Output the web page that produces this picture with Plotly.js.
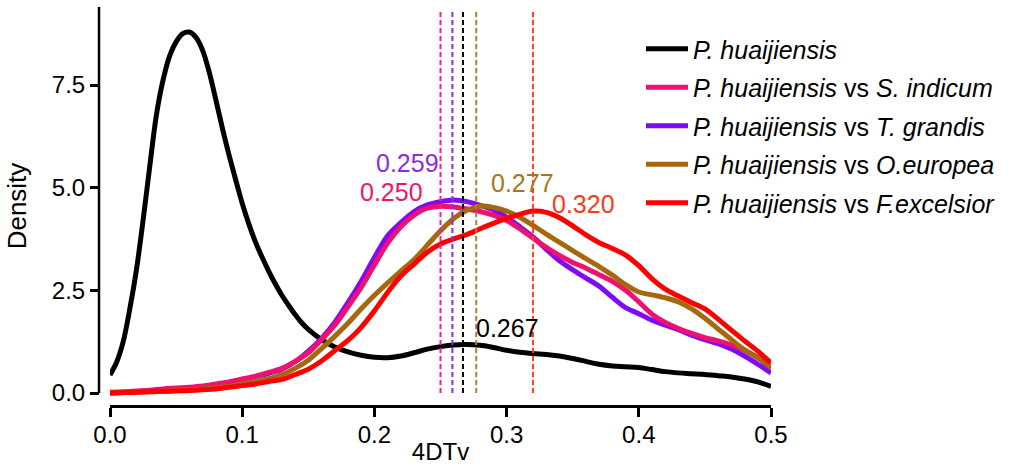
<!DOCTYPE html>
<html>
<head>
<meta charset="utf-8">
<script src="https://cdn.plot.ly/plotly-3.0.1.min.js"></script>
<style>html,body{margin:0;padding:0;background:#fff;}#chart{width:1011px;height:469px;}</style>
</head>
<body>
<div id="chart"></div>
<script>
// ---- data ----
const xSingle = [0, 0.005, 0.01, 0.015, 0.02, 0.025, 0.03, 0.035, 0.04, 0.045, 0.05, 0.055, 0.06, 0.065, 0.07, 0.075, 0.08, 0.085, 0.09, 0.095, 0.10, 0.105, 0.11, 0.115, 0.12, 0.125, 0.13, 0.135, 0.14, 0.145, 0.15, 0.16, 0.17, 0.18, 0.19, 0.20, 0.21, 0.22, 0.23, 0.24, 0.25, 0.26, 0.27, 0.28, 0.29, 0.30, 0.31, 0.32, 0.33, 0.34, 0.35, 0.36, 0.37, 0.38, 0.39, 0.40, 0.41, 0.42, 0.43, 0.44, 0.45, 0.46, 0.47, 0.48, 0.49, 0.50];
const densHuaijiensis = [0.44, 0.75, 1.25, 2.05, 3.0, 4.2, 5.5, 6.75, 7.6, 8.2, 8.55, 8.75, 8.79, 8.66, 8.35, 7.82, 7.15, 6.45, 5.8, 5.2, 4.62, 4.12, 3.68, 3.31, 2.97, 2.66, 2.38, 2.14, 1.91, 1.71, 1.55, 1.3, 1.12, 1.0, 0.92, 0.87, 0.86, 0.9, 0.98, 1.07, 1.13, 1.17, 1.18, 1.16, 1.11, 1.04, 0.99, 0.96, 0.94, 0.9, 0.84, 0.77, 0.7, 0.66, 0.64, 0.62, 0.57, 0.52, 0.49, 0.47, 0.45, 0.42, 0.39, 0.34, 0.27, 0.16];

const xPair = [0, 0.01, 0.02, 0.03, 0.04, 0.05, 0.06, 0.07, 0.08, 0.09, 0.10, 0.11, 0.12, 0.13, 0.14, 0.15, 0.16, 0.17, 0.18, 0.19, 0.20, 0.21, 0.22, 0.23, 0.24, 0.25, 0.26, 0.27, 0.28, 0.29, 0.30, 0.31, 0.32, 0.33, 0.34, 0.35, 0.36, 0.37, 0.38, 0.39, 0.40, 0.41, 0.42, 0.43, 0.44, 0.45, 0.46, 0.47, 0.48, 0.49, 0.50];
const densSindicum = [0.02, 0.03, 0.05, 0.07, 0.1, 0.12, 0.14, 0.17, 0.22, 0.27, 0.34, 0.41, 0.5, 0.6, 0.77, 0.98, 1.3, 1.65, 2.1, 2.57, 3.12, 3.65, 4.05, 4.33, 4.5, 4.55, 4.53, 4.48, 4.42, 4.33, 4.2, 4.0, 3.77, 3.55, 3.35, 3.18, 3.04, 2.88, 2.72, 2.5, 2.22, 1.92, 1.72, 1.57, 1.45, 1.35, 1.27, 1.17, 1.04, 0.86, 0.6];
const densTgrandis = [0.0, 0.01, 0.03, 0.05, 0.07, 0.09, 0.11, 0.14, 0.19, 0.26, 0.33, 0.4, 0.48, 0.58, 0.76, 1.02, 1.33, 1.72, 2.2, 2.72, 3.3, 3.83, 4.15, 4.42, 4.58, 4.66, 4.7, 4.66, 4.57, 4.46, 4.28, 4.05, 3.8, 3.5, 3.22, 3.0, 2.8, 2.6, 2.33, 2.08, 1.93, 1.77, 1.65, 1.54, 1.41, 1.3, 1.2, 1.07, 0.9, 0.7, 0.49];
const densOeuropea = [0.0, 0.01, 0.02, 0.03, 0.04, 0.06, 0.08, 0.1, 0.13, 0.16, 0.22, 0.28, 0.35, 0.45, 0.6, 0.8, 1.08, 1.38, 1.7, 2.05, 2.38, 2.68, 2.97, 3.25, 3.6, 3.95, 4.25, 4.45, 4.55, 4.52, 4.43, 4.28, 4.08, 3.87, 3.67, 3.47, 3.27, 3.08, 2.87, 2.64, 2.46, 2.39, 2.32, 2.22, 2.05, 1.82, 1.56, 1.3, 1.05, 0.86, 0.63];
const densFexcelsior = [0.0, 0.01, 0.02, 0.03, 0.04, 0.05, 0.06, 0.08, 0.1, 0.14, 0.18, 0.22, 0.28, 0.33, 0.45, 0.58, 0.78, 1.03, 1.28, 1.6, 2.0, 2.45, 2.85, 3.14, 3.43, 3.63, 3.75, 3.86, 4.0, 4.13, 4.25, 4.35, 4.43, 4.4, 4.27, 4.07, 3.85, 3.66, 3.52, 3.36, 3.1, 2.78, 2.53, 2.36, 2.2, 2.05, 1.8, 1.53, 1.27, 1.02, 0.73];

const seriesNames = [
  '<i>P. huaijiensis</i>',
  '<i>P. huaijiensis</i> vs <i>S. indicum</i>',
  '<i>P. huaijiensis</i> vs <i>T. grandis</i>',
  '<i>P. huaijiensis</i> vs <i>O.europea</i>',
  '<i>P. huaijiensis</i> vs <i>F.excelsior</i>'
];
const seriesColors = ['#000000', '#F0106F', '#7F0AF5', '#A5680C', '#FF0000'];

// peak positions (vertical dashed lines) and their labels
const peakValues = [0.250, 0.259, 0.267, 0.277, 0.320];
const peakLabels = ['0.250', '0.259', '0.267', '0.277', '0.320'];
const peakLineColors = ['#E8258A', '#8A2BE2', '#000000', '#B07D2A', '#FF4022'];
const peakLabelColors = ['#F0146E', '#8A2BE2', '#000000', '#A87520', '#FF3A12'];
const peakLabelX = [0.2133, 0.2247, 0.301, 0.3117, 0.358];
const peakLabelY = [4.89, 5.6, 1.58, 5.11, 4.6];
const peakLineTop = 9.35;

const xTicks = [0, 0.1, 0.2, 0.3, 0.4, 0.5];
const yTicks = [0, 2.5, 5, 7.5];

// ---- figure ----
const W = 1011, H = 469;
const FONT = 'Liberation Sans, Arial, Helvetica, sans-serif';
const ys = [densHuaijiensis, densSindicum, densTgrandis, densOeuropea, densFexcelsior];
const xs = [xSingle, xPair, xPair, xPair, xPair];
const drawOrder = [0, 2, 1, 3, 4];

const traces = drawOrder.map(i => ({
  type: 'scatter', mode: 'lines',
  x: xs[i], y: ys[i], name: seriesNames[i],
  line: {color: seriesColors[i], width: 5, shape: 'spline', smoothing: 0.9},
  legendgroup: 'g' + i, legendrank: i + 1,
  hoverinfo: 'x+y+name'
}));

// vertical dashed peak lines (drawn on an overlaid x axis that also carries the x title)
peakValues.forEach((v, i) => {
  traces.push({
    type: 'scatter', mode: 'lines', xaxis: 'x2', yaxis: 'y',
    x: [v, v], y: [0, peakLineTop], showlegend: false,
    line: {color: peakLineColors[i], width: 2, dash: '5px,3px'},
    hoverinfo: 'x'
  });
});

const shapes = [
  // R-style y axis line from 0 to the top of the range
  {type: 'line', xref: 'paper', yref: 'y', x0: 99 / W, x1: 99 / W, y0: 0, y1: 9.4,
   line: {color: '#000', width: 2.5}}
];

const annotations = peakLabels.map((t, i) => ({
  x: peakLabelX[i], y: peakLabelY[i], xref: 'x', yref: 'y', text: t, showarrow: false,
  font: {family: FONT, size: 25, color: peakLabelColors[i]}
}));

const layout = {
  width: W, height: H,
  margin: {l: 0, r: 0, t: 0, b: 0},
  paper_bgcolor: '#fff', plot_bgcolor: '#fff',
  font: {family: FONT, size: 24, color: '#000'},
  showlegend: true,
  legend: {
    x: 641 / W, y: 1 - 26 / H, xanchor: 'left', yanchor: 'top',
    traceorder: 'grouped', tracegroupgap: 3, itemwidth: 42,
    font: {family: FONT, size: 25, color: '#000'},
    bgcolor: 'rgba(0,0,0,0)'
  },
  xaxis: {
    domain: [110 / W, 771 / W], range: [0, 0.5], anchor: 'y',
    showline: true, linewidth: 2.5, linecolor: '#000',
    ticks: 'outside', ticklen: 9, tickwidth: 2.5, tickcolor: '#000',
    tickvals: xTicks, tickformat: '.1f', showgrid: false, zeroline: false,
    tickfont: {family: FONT, size: 24}, ticklabelstandoff: -3
  },
  xaxis2: {
    overlaying: 'x', range: [0, 0.5], anchor: 'free', position: (H - 443) / H,
    showline: false, ticks: '', showticklabels: false, showgrid: false, zeroline: false,
    title: {text: '4DTv', font: {family: FONT, size: 24}, standoff: 0}
  },
  yaxis: {
    domain: [(H - 405) / H, (H - 7) / H], range: [-0.2923, 9.4], anchor: 'free', position: 99 / W,
    showline: false,
    ticks: 'outside', ticklen: 9, tickwidth: 2.5, tickcolor: '#000',
    tickvals: yTicks, tickformat: '.1f', showgrid: false, zeroline: false,
    tickfont: {family: FONT, size: 24},
    title: {text: 'Density', font: {family: FONT, size: 26}, standoff: 16}
  },
  shapes: shapes,
  annotations: annotations
};

Plotly.newPlot('chart', traces, layout, {displayModeBar: false});
</script>
</body>
</html>
